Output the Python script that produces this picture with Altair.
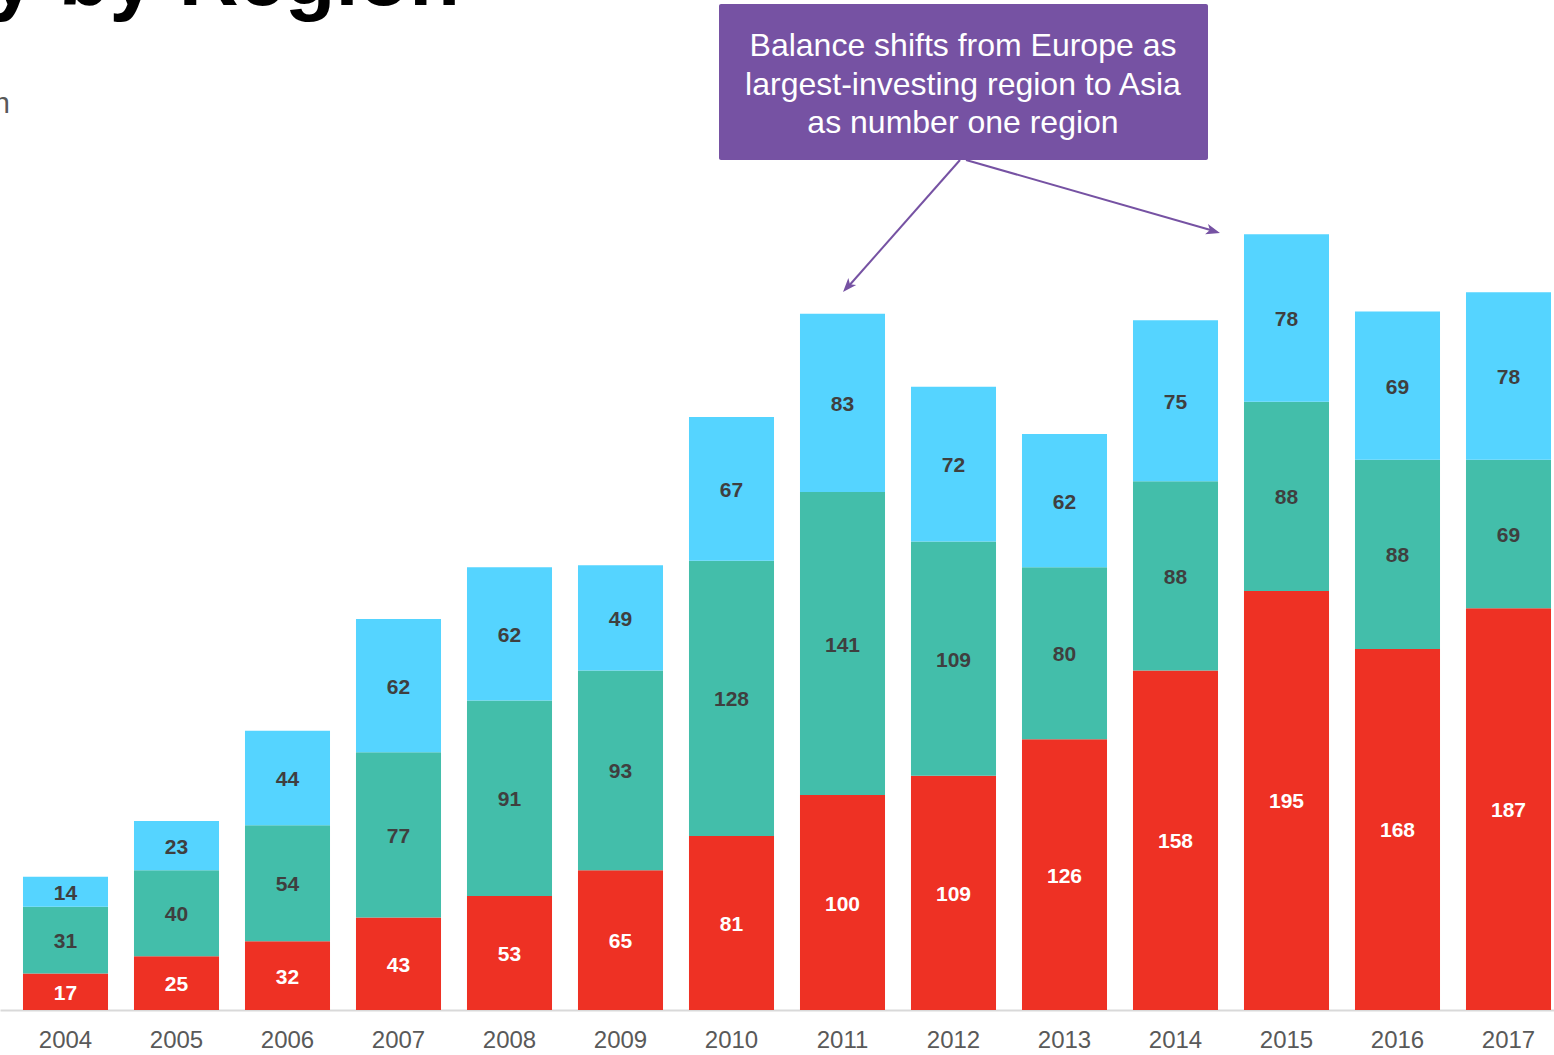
import altair as alt
import pandas as pd

years = [str(y) for y in range(2004, 2018)]
asia = [17, 25, 32, 43, 53, 65, 81, 100, 109, 126, 158, 195, 168, 187]
emea = [31, 40, 54, 77, 91, 93, 128, 141, 109, 80, 88, 88, 88, 69]
amer = [14, 23, 44, 62, 62, 49, 67, 83, 72, 62, 75, 78, 69, 78]
regions = ["Asia Pacific", "Europe, Middle East & Africa", "Americas"]
bar_colors = ["#EE3124", "#43BEAA", "#55D4FF"]
label_colors = ["#FFFFFF", "#3F3F3F", "#3F3F3F"]
note_lines = ["Balance shifts from Europe as",
              "largest-investing region to Asia",
              "as number one region"]
title_text = "Investment in Clean Energy by Region"
subtitle_text = "Global, USD billion"

rows = []
for i, yr in enumerate(years):
    for k, vals in enumerate([asia, emea, amer]):
        rows.append({"year": yr, "region": regions[k], "order": k,
                     "value": vals[i], "tcolor": label_colors[k]})
df = pd.DataFrame(rows)
one = pd.DataFrame({"k": [0]})

FONT = "Liberation Sans"
PURPLE = "#7652A3"

x_enc = alt.X("year:O",
              scale=alt.Scale(paddingInner=0.234, paddingOuter=0.117, align=0.885),
              axis=alt.Axis(title=None, labelAngle=0, ticks=False,
                            domainColor="#D9D9D9", domainWidth=2,
                            labelFontSize=24, labelColor="#595959",
                            labelFont=FONT, labelPadding=18))
y_scale = alt.Scale(domain=[0, 470], nice=False, zero=True)

bars = alt.Chart(df).mark_bar().encode(
    x=x_enc,
    y=alt.Y("value:Q", stack="zero", scale=y_scale, axis=None),
    color=alt.Color("region:N", scale=alt.Scale(domain=regions, range=bar_colors), legend=None),
    order=alt.Order("order:Q", sort="ascending"),
)

labels = alt.Chart(df).transform_stack(
    stack="value", groupby=["year"], as_=["v0", "v1"],
    sort=[alt.SortField("order", order="ascending")]
).transform_calculate(
    mid="(datum.v0 + datum.v1) / 2"
).mark_text(fontSize=21, fontWeight="bold", font=FONT, baseline="middle", dy=2).encode(
    x=alt.X("year:O"),
    y=alt.Y("mid:Q", scale=y_scale, axis=None),
    text=alt.Text("value:Q"),
    color=alt.Color("tcolor:N", scale=None, legend=None),
)

box = alt.Chart(one).mark_rect(color=PURPLE, cornerRadius=2).encode(
    x=alt.value(719), x2=alt.value(1208), y=alt.value(4), y2=alt.value(160))

note = alt.Chart(one).mark_text(font=FONT, fontSize=32, color="white",
                                 align="center", baseline="middle", lineHeight=38.5).encode(
    x=alt.value(963), y=alt.value(46), text=alt.value(note_lines))

line1 = alt.Chart(one).mark_rule(color=PURPLE, strokeWidth=2).encode(
    x=alt.value(960), y=alt.value(160), x2=alt.value(847), y2=alt.value(288))
line2 = alt.Chart(one).mark_rule(color=PURPLE, strokeWidth=2).encode(
    x=alt.value(966), y=alt.value(160), x2=alt.value(1214), y2=alt.value(231))

arrow_path = "M0,0 L-2,-0.75 L-1.5,0 L-2,0.75 Z"
head1 = alt.Chart(one).mark_point(shape=arrow_path, filled=True, color=PURPLE,
                                  size=196, angle=131.5, opacity=1).encode(
    x=alt.value(843), y=alt.value(292))
head2 = alt.Chart(one).mark_point(shape=arrow_path, filled=True, color=PURPLE,
                                  size=196, angle=16, opacity=1).encode(
    x=alt.value(1220), y=alt.value(233))

title = alt.Chart(one).mark_text(font=FONT, fontSize=83, fontWeight="bold", color="black",
                                  align="right", baseline="alphabetic").encode(
    x=alt.value(460), y=alt.value(5), text=alt.value(title_text))
subtitle = alt.Chart(one).mark_text(font=FONT, fontSize=29, color="#595959",
                                     align="right", baseline="alphabetic").encode(
    x=alt.value(10), y=alt.value(113), text=alt.value(subtitle_text))

chart = alt.layer(
    bars, labels, box, note, line1, line2, head1, head2, title, subtitle
).resolve_scale(color="independent").properties(
    width=1554, height=1010,
    padding={"left": 0, "right": 0, "top": 0, "bottom": 45},
    autosize=alt.AutoSizeParams(type="none"),
).configure_view(stroke=None)

chart.save("out.html", embed_options={"renderer": "svg", "actions": False})
